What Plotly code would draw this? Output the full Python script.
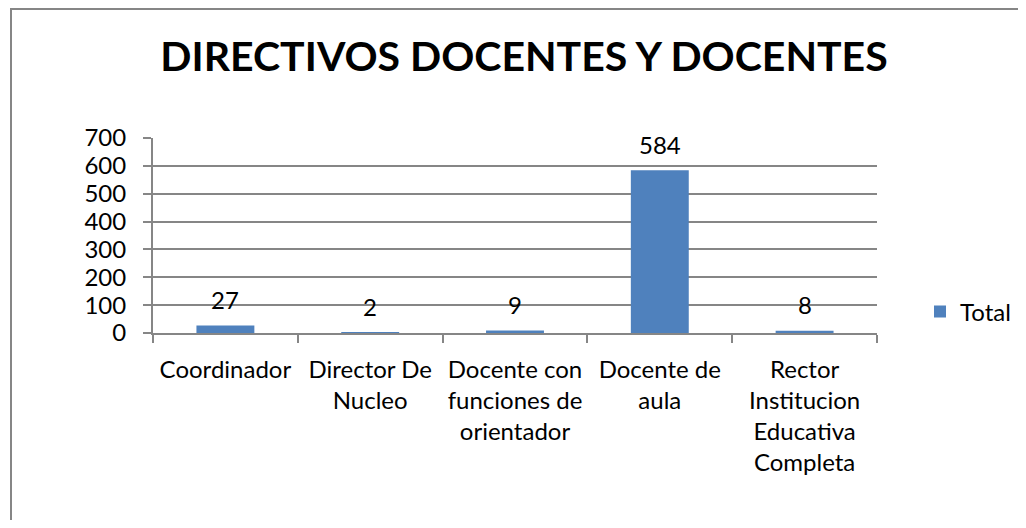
import plotly.graph_objects as go

categories = ["Coordinador", "Director De Nucleo", "Docente con funciones de orientador",
              "Docente de aula", "Rector Institucion Educativa Completa"]
tick_labels = ["Coordinador", "Director De<br>Nucleo", "Docente con<br>funciones de<br>orientador",
               "Docente de<br>aula", "Rector<br>Institucion<br>Educativa<br>Completa"]
totals = [27, 2, 9, 584, 8]
y_ticks = [0, 100, 200, 300, 400, 500, 600, 700]
title_text = "DIRECTIVOS DOCENTES Y DOCENTES"
series_name = "Total"

FONT = "Lato"
BLUE = "#4F81BD"
GRID = "#868686"

OFF = 8  # default page body margin
W, H = 1026 - 2 * OFF, 528 - 2 * OFF
L, T = 153 - OFF, 138 - OFF
R = W - (877 - OFF)
B = H - (333 - OFF)
pw, ph = W - L - R, H - T - B


def px_to_paper_x(px):
    return (px - OFF - L) / pw


def px_to_paper_y(py):
    return (H - B - (py - OFF)) / ph


fig = go.Figure()
fig.add_trace(go.Bar(
    x=categories, y=totals, name=series_name, marker=dict(color=BLUE, line=dict(width=0)),
    width=0.4, showlegend=True,
))

for c, v in zip(categories, totals):
    fig.add_annotation(x=c, y=v, text=str(v), showarrow=False, yanchor="middle",
                       yshift=26, font=dict(family=FONT, size=24, color="black"))

# outer chart border: only the left and top edges fall inside the window
bx0, bx1 = px_to_paper_x(11), px_to_paper_x(1026)
by0, by1 = px_to_paper_y(528), px_to_paper_y(9)
fig.add_shape(type="path", xref="paper", yref="paper",
              path=f"M {bx0},{by0} L {bx0},{by1} L {bx1},{by1}",
              line=dict(color=GRID, width=2), layer="below")

fig.update_layout(
    width=W, height=H,
    margin=dict(l=L, r=R, t=T, b=B, autoexpand=False),
    paper_bgcolor="white", plot_bgcolor="white",
    font=dict(family=FONT, size=24, color="black"),
    title=dict(text="<b>" + title_text + "</b>", x=(524 - OFF) / W, xanchor="center",
               y=1 - (57 - OFF) / H, yanchor="middle",
               font=dict(family=FONT, size=41, color="black")),
    legend=dict(x=px_to_paper_x(920), y=px_to_paper_y(312), xanchor="left", yanchor="middle",
                font=dict(family=FONT, size=24), bgcolor="rgba(0,0,0,0)"),
    bargap=0.6,
)
fig.update_xaxes(
    type="category", tickmode="array", tickvals=categories, ticktext=tick_labels,
    tickson="boundaries", ticks="outside", ticklen=8, tickcolor=GRID, tickwidth=2,
    showline=True, linecolor=GRID, linewidth=2, showgrid=False,
    ticklabelstandoff=14, tickfont=dict(family=FONT, size=24),
)
fig.update_yaxes(
    range=[0, 700], tickmode="array", tickvals=y_ticks,
    ticks="outside", ticklen=8, tickcolor=GRID, tickwidth=2,
    showline=True, linecolor=GRID, linewidth=2,
    showgrid=True, gridcolor=GRID, gridwidth=2, zeroline=False,
    ticklabelstandoff=12, tickfont=dict(family=FONT, size=24),
)

fig.write_html("out.html")
